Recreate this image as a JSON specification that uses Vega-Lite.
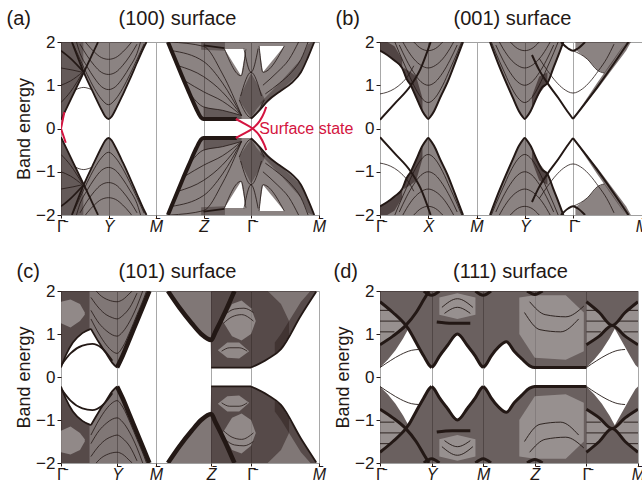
{
"$schema":"https://vega.github.io/schema/vega-lite/v6.json",
"background":"white",
"padding":{"left":5,"top":7,"right":0,"bottom":0},
"config":{"view":{"stroke":"#a0a0a0","strokeWidth":1},"font":"Liberation Sans",
"axis":{"labelFont":"Liberation Sans","titleFont":"Liberation Sans","labelColor":"#231815","titleColor":"#231815","titleFontWeight":"normal","tickColor":"#231815","domain":false,"labelOverlap":false},
"axisX":{"tickSize":3,"labelPadding":0,"labelFontSize":16,"labelFlush":false},
"axisY":{"tickSize":4,"labelPadding":2,"labelFontSize":17,"titleFontSize":18,"titlePadding":2}},
"datasets":{
"aA":[{"s":"a1","x":0,"y":0.2,"y2":2},{"s":"a1","x":0.1,"y":0.43,"y2":2},{"s":"a1","x":0.2,"y":0.66,"y2":2},{"s":"a1","x":0.3,"y":0.89,"y2":2},{"s":"a1","x":0.4,"y":1.12,"y2":2},{"s":"a1","x":0.48,"y":1.3,"y2":2},{"s":"a1","x":0.56,"y":1.14,"y2":2},{"s":"a1","x":0.7,"y":0.78,"y2":2},{"s":"a1","x":0.85,"y":0.44,"y2":2},{"s":"a1","x":0.93,"y":0.28,"y2":2},{"s":"a1","x":1,"y":0.22,"y2":2},{"s":"a1","x":1.07,"y":0.28,"y2":2},{"s":"a1","x":1.15,"y":0.44,"y2":2},{"s":"a1","x":1.3,"y":0.78,"y2":2},{"s":"a1","x":1.45,"y":1.14,"y2":2},{"s":"a1","x":1.6,"y":1.52,"y2":2},{"s":"a1","x":1.75,"y":1.89,"y2":2},{"s":"a1","x":1.8,"y":2,"y2":2},
{"s":"a2","x":2.25,"y":2,"y2":2},{"s":"a2","x":2.4,"y":1.6,"y2":2},{"s":"a2","x":2.55,"y":1.2,"y2":2},{"s":"a2","x":2.7,"y":0.82,"y2":2},{"s":"a2","x":2.85,"y":0.45,"y2":2},{"s":"a2","x":2.95,"y":0.25,"y2":2},{"s":"a2","x":3,"y":0.22,"y2":2},{"s":"a2","x":3.7,"y":0.22,"y2":2},{"s":"a2","x":4,"y":0.22,"y2":2},{"s":"a2","x":4.2,"y":0.45,"y2":2},{"s":"a2","x":4.35,"y":0.64,"y2":2},{"s":"a2","x":4.6,"y":0.85,"y2":2},{"s":"a2","x":4.85,"y":1.05,"y2":2},{"s":"a2","x":5.05,"y":1.3,"y2":2},{"s":"a2","x":5.2,"y":1.65,"y2":2},{"s":"a2","x":5.33,"y":2,"y2":2}],
"aD":[{"s":"d1","x":0,"y":0.2,"y2":2},{"s":"d1","x":0.1,"y":0.43,"y2":2},{"s":"d1","x":0.2,"y":0.66,"y2":2},{"s":"d1","x":0.3,"y":0.89,"y2":2},{"s":"d1","x":0.4,"y":1.12,"y2":2},{"s":"d1","x":0.47,"y":1.28,"y2":2},
{"s":"d2","x":3,"y":0.22,"y2":0.5},{"s":"d2","x":3.4,"y":0.22,"y2":0.42},{"s":"d2","x":3.8,"y":0.22,"y2":0.3},
{"s":"d3","x":2.95,"y":1.82,"y2":2},{"s":"d3","x":3.45,"y":1.8,"y2":2},
{"s":"d4","x":3.75,"y":0.66,"y2":0.7},{"s":"d4","x":3.9,"y":0.4,"y2":1.05},{"s":"d4","x":4,"y":0.25,"y2":1.28},{"s":"d4","x":4.12,"y":0.45,"y2":1.05},{"s":"d4","x":4.28,"y":0.66,"y2":0.7},
{"s":"d5","x":4.2,"y":0.45,"y2":0.6},{"s":"d5","x":4.6,"y":0.85,"y2":1.05},{"s":"d5","x":5.05,"y":1.3,"y2":1.6},{"s":"d5","x":5.2,"y":1.65,"y2":1.95},{"s":"d5","x":5.3,"y":1.95,"y2":2}],
"aW":[{"s":"w1","x":3.44,"y":1.84,"y2":1.84},{"s":"w1","x":3.79,"y":1.22,"y2":1.84},{"s":"w1","x":3.89,"y":1.84,"y2":1.84},
{"s":"w2","x":4.17,"y":1.91,"y2":1.91},{"s":"w2","x":4.25,"y":1.3,"y2":1.91},{"s":"w2","x":4.7,"y":1.91,"y2":1.91}],
"aL":[{"s":"v1","x":0.25,"y":1.96},{"s":"v1","x":0.4,"y":1.6},{"s":"v1","x":0.55,"y":1.25},{"s":"v1","x":0.7,"y":0.93},{"s":"v1","x":0.85,"y":0.68},{"s":"v1","x":1,"y":0.55},{"s":"v1","x":1.15,"y":0.68},{"s":"v1","x":1.3,"y":0.93},{"s":"v1","x":1.45,"y":1.25},{"s":"v1","x":1.6,"y":1.6},{"s":"v1","x":1.75,"y":1.96},
{"s":"v2","x":0.3,"y":2.1},{"s":"v2","x":0.4,"y":1.74},{"s":"v2","x":0.55,"y":1.43},{"s":"v2","x":0.7,"y":1.17},{"s":"v2","x":0.85,"y":0.97},{"s":"v2","x":1,"y":0.9},{"s":"v2","x":1.15,"y":0.97},{"s":"v2","x":1.3,"y":1.17},{"s":"v2","x":1.45,"y":1.43},{"s":"v2","x":1.6,"y":1.74},{"s":"v2","x":1.7,"y":2.1},
{"s":"v3","x":0.4,"y":1.95},{"s":"v3","x":0.55,"y":1.68},{"s":"v3","x":0.7,"y":1.46},{"s":"v3","x":0.85,"y":1.3},{"s":"v3","x":1,"y":1.25},{"s":"v3","x":1.15,"y":1.3},{"s":"v3","x":1.3,"y":1.46},{"s":"v3","x":1.45,"y":1.68},{"s":"v3","x":1.6,"y":1.95},
{"s":"v4","x":0.45,"y":2.1},{"s":"v4","x":0.55,"y":1.95},{"s":"v4","x":0.7,"y":1.77},{"s":"v4","x":0.85,"y":1.64},{"s":"v4","x":1,"y":1.6},{"s":"v4","x":1.15,"y":1.64},{"s":"v4","x":1.3,"y":1.77},{"s":"v4","x":1.45,"y":1.95},{"s":"v4","x":1.55,"y":2.1},
{"s":"g1","x":0,"y":0.6},{"s":"g1","x":0.2,"y":0.85},{"s":"g1","x":0.45,"y":1.28},
{"s":"g2","x":0,"y":1.0},{"s":"g2","x":0.2,"y":1.1},{"s":"g2","x":0.45,"y":1.3},
{"s":"g3","x":0,"y":1.4},{"s":"g3","x":0.25,"y":1.35},{"s":"g3","x":0.45,"y":1.3},
{"s":"ar","x":0.3,"y":0.89},{"s":"ar","x":0.38,"y":0.93},{"s":"ar","x":0.48,"y":0.95},{"s":"ar","x":0.57,"y":0.93},{"s":"ar","x":0.65,"y":0.9},
{"s":"z1","x":2.75,"y":0.75},{"s":"z1","x":3,"y":0.5},{"s":"z1","x":3.4,"y":0.42},{"s":"z1","x":3.8,"y":0.3},
{"s":"z2","x":2.61,"y":1.1},{"s":"z2","x":3,"y":0.85},{"s":"z2","x":3.4,"y":0.63},{"s":"z2","x":3.8,"y":0.3},
{"s":"z3","x":2.47,"y":1.45},{"s":"z3","x":3,"y":1.2},{"s":"z3","x":3.4,"y":0.84},{"s":"z3","x":3.8,"y":0.3},
{"s":"z4","x":2.33,"y":1.8},{"s":"z4","x":3,"y":1.55},{"s":"z4","x":3.4,"y":1.05},{"s":"z4","x":3.8,"y":0.3},
{"s":"z5","x":2.3,"y":2},{"s":"z5","x":3,"y":1.9},{"s":"z5","x":3.4,"y":1.26},{"s":"z5","x":3.8,"y":0.3},
{"s":"n1","x":3.44,"y":1.84},{"s":"n1","x":3.79,"y":1.22},{"s":"n1","x":3.89,"y":1.84},
{"s":"n2","x":4.17,"y":1.91},{"s":"n2","x":4.25,"y":1.3},{"s":"n2","x":4.7,"y":1.91},
{"s":"x1","x":3.78,"y":0.75},{"s":"x1","x":4,"y":1.3},{"s":"x1","x":4.22,"y":0.75},
{"s":"x2","x":3.85,"y":1.85},{"s":"x2","x":4,"y":1.3},{"s":"x2","x":4.15,"y":1.85},
{"s":"x3","x":3.75,"y":0.66},{"s":"x3","x":4,"y":0.25},{"s":"x3","x":4.28,"y":0.66},
{"s":"r1","x":4.3,"y":0.8},{"s":"r1","x":4.6,"y":1.05},{"s":"r1","x":4.85,"y":1.3},{"s":"r1","x":5.05,"y":1.6},{"s":"r1","x":5.2,"y":2},
{"s":"r2","x":4.25,"y":1.0},{"s":"r2","x":4.55,"y":1.3},{"s":"r2","x":4.8,"y":1.6},{"s":"r2","x":5,"y":2}],
"aB":[{"s":"e4","x":2.25,"y":2},{"s":"e4","x":2.4,"y":1.6},{"s":"e4","x":2.55,"y":1.2},{"s":"e4","x":2.7,"y":0.82},{"s":"e4","x":2.85,"y":0.45},{"s":"e4","x":2.95,"y":0.25},{"s":"e4","x":3,"y":0.22},{"s":"e4","x":3.7,"y":0.22}],
"aE":[{"s":"e1","x":0,"y":0.2},{"s":"e1","x":0.48,"y":1.3},{"s":"e1","x":0.78,"y":2},
{"s":"e2","x":0.23,"y":2},{"s":"e2","x":0.48,"y":1.3},{"s":"e2","x":0.7,"y":0.78},{"s":"e2","x":0.85,"y":0.44},{"s":"e2","x":0.93,"y":0.28},{"s":"e2","x":1,"y":0.22},{"s":"e2","x":1.07,"y":0.28},{"s":"e2","x":1.15,"y":0.44},{"s":"e2","x":1.3,"y":0.78},{"s":"e2","x":1.45,"y":1.14},{"s":"e2","x":1.6,"y":1.52},{"s":"e2","x":1.75,"y":1.89},{"s":"e2","x":1.8,"y":2},
{"s":"e3","x":0,"y":1.8},{"s":"e3","x":0.2,"y":1.62},{"s":"e3","x":0.48,"y":1.3},
{"s":"e5","x":4,"y":0.22},{"s":"e5","x":4.2,"y":0.45},{"s":"e5","x":4.35,"y":0.64},{"s":"e5","x":4.6,"y":0.85},{"s":"e5","x":4.85,"y":1.05},{"s":"e5","x":5.05,"y":1.3},{"s":"e5","x":5.2,"y":1.65},{"s":"e5","x":5.33,"y":2},
{"s":"e6","x":3,"y":1.92},{"s":"e6","x":3.44,"y":1.86}],
"aR":[{"s":"r1","x":3.68,"y":0.22},{"s":"r1","x":3.85,"y":0.12},{"s":"r1","x":4.03,"y":0},{"s":"r1","x":4.18,"y":-0.17},{"s":"r1","x":4.28,"y":-0.38},{"s":"r1","x":4.32,"y":-0.5},
{"s":"r2","x":3.68,"y":-0.22},{"s":"r2","x":3.85,"y":-0.12},{"s":"r2","x":4.03,"y":0},{"s":"r2","x":4.18,"y":0.17},{"s":"r2","x":4.28,"y":0.38},{"s":"r2","x":4.32,"y":0.5},
{"s":"r3","x":0,"y":0},{"s":"r3","x":0.07,"y":0.38},
{"s":"r4","x":0,"y":0},{"s":"r4","x":0.1,"y":-0.33}],
"aT":[{"t":"Surface state","x":4.17,"y":0}],
"bA":[{"s":"b1","x":0,"y":1.8,"y2":2},{"s":"b1","x":0.15,"y":1.7,"y2":2},{"s":"b1","x":0.3,"y":1.57,"y2":2},{"s":"b1","x":0.46,"y":1.4,"y2":2},{"s":"b1","x":0.55,"y":1.15,"y2":2},{"s":"b1","x":0.64,"y":1.0,"y2":2},{"s":"b1","x":0.75,"y":0.72,"y2":2},{"s":"b1","x":0.88,"y":0.4,"y2":2},{"s":"b1","x":0.95,"y":0.28,"y2":2},{"s":"b1","x":1,"y":0.22,"y2":2},{"s":"b1","x":1.05,"y":0.28,"y2":2},{"s":"b1","x":1.12,"y":0.4,"y2":2},{"s":"b1","x":1.25,"y":0.72,"y2":2},{"s":"b1","x":1.4,"y":1.07,"y2":2},{"s":"b1","x":1.55,"y":1.5,"y2":2},{"s":"b1","x":1.72,"y":2,"y2":2},
{"s":"b2","x":2.28,"y":2,"y2":2},{"s":"b2","x":2.45,"y":1.5,"y2":2},{"s":"b2","x":2.6,"y":1.1,"y2":2},{"s":"b2","x":2.75,"y":0.72,"y2":2},{"s":"b2","x":2.88,"y":0.4,"y2":2},{"s":"b2","x":2.95,"y":0.28,"y2":2},{"s":"b2","x":3,"y":0.22,"y2":2},{"s":"b2","x":3.05,"y":0.28,"y2":2},{"s":"b2","x":3.12,"y":0.4,"y2":2},{"s":"b2","x":3.25,"y":0.72,"y2":2},{"s":"b2","x":3.36,"y":0.95,"y2":2},{"s":"b2","x":3.47,"y":1.05,"y2":2},{"s":"b2","x":3.6,"y":1.42,"y2":2},{"s":"b2","x":3.7,"y":1.7,"y2":2},{"s":"b2","x":3.8,"y":2,"y2":2},
{"s":"b3","x":4.05,"y":1.82,"y2":2},{"s":"b3","x":4.3,"y":1.6,"y2":2},{"s":"b3","x":4.5,"y":1.35,"y2":2},{"s":"b3","x":4.65,"y":1.28,"y2":2},{"s":"b3","x":4.8,"y":1.5,"y2":2},{"s":"b3","x":5,"y":1.83,"y2":2},{"s":"b3","x":5.1,"y":2,"y2":2}],
"bD":[{"s":"bd","x":4,"y":0.22,"y2":0.22},{"s":"bd","x":4.5,"y":0.9,"y2":1.05},{"s":"bd","x":5,"y":1.65,"y2":1.85},{"s":"bd","x":5.1,"y":1.8,"y2":2},{"s":"bd","x":5.2,"y":2,"y2":2},
{"s":"wd","x":0,"y":1.8,"y2":2},{"s":"wd","x":0.15,"y":1.7,"y2":2},{"s":"wd","x":0.3,"y":1.57,"y2":1.9},{"s":"wd","x":0.46,"y":1.4,"y2":1.6},
{"s":"xd","x":0.5,"y":1.25,"y2":1.4},{"s":"xd","x":0.64,"y":1.0,"y2":1.3},{"s":"xd","x":0.75,"y":0.72,"y2":1.2},{"s":"xd","x":0.88,"y":0.42,"y2":0.7},
{"s":"yd","x":3.15,"y":0.5,"y2":0.75},{"s":"yd","x":3.3,"y":0.8,"y2":1.2},{"s":"yd","x":3.47,"y":1.05,"y2":1.3}],
"bL":[{"s":"x1","x":0.3,"y":2.02},{"s":"x1","x":0.4,"y":1.75},{"s":"x1","x":0.55,"y":1.37},{"s":"x1","x":0.7,"y":1.0},{"s":"x1","x":0.85,"y":0.72},{"s":"x1","x":1,"y":0.6},{"s":"x1","x":1.15,"y":0.72},{"s":"x1","x":1.3,"y":1.0},{"s":"x1","x":1.45,"y":1.37},{"s":"x1","x":1.6,"y":1.75},{"s":"x1","x":1.7,"y":2.02},
{"s":"x2","x":0.4,"y":1.93},{"s":"x2","x":0.55,"y":1.58},{"s":"x2","x":0.7,"y":1.29},{"s":"x2","x":0.85,"y":1.08},{"s":"x2","x":1,"y":1.0},{"s":"x2","x":1.15,"y":1.08},{"s":"x2","x":1.3,"y":1.29},{"s":"x2","x":1.45,"y":1.58},{"s":"x2","x":1.6,"y":1.93},
{"s":"x3","x":0.45,"y":2.05},{"s":"x3","x":0.55,"y":1.85},{"s":"x3","x":0.7,"y":1.61},{"s":"x3","x":0.85,"y":1.46},{"s":"x3","x":1,"y":1.4},{"s":"x3","x":1.15,"y":1.46},{"s":"x3","x":1.3,"y":1.61},{"s":"x3","x":1.45,"y":1.85},{"s":"x3","x":1.55,"y":2.05},
{"s":"x4","x":0.7,"y":2},{"s":"x4","x":0.85,"y":1.85},{"s":"x4","x":1,"y":1.8},{"s":"x4","x":1.15,"y":1.85},{"s":"x4","x":1.3,"y":2},
{"s":"q1","x":2.3,"y":2.02},{"s":"q1","x":2.4,"y":1.75},{"s":"q1","x":2.55,"y":1.37},{"s":"q1","x":2.7,"y":1.0},{"s":"q1","x":2.85,"y":0.72},{"s":"q1","x":3,"y":0.6},{"s":"q1","x":3.15,"y":0.72},{"s":"q1","x":3.3,"y":1.0},{"s":"q1","x":3.45,"y":1.37},{"s":"q1","x":3.6,"y":1.75},{"s":"q1","x":3.7,"y":2.02},
{"s":"q2","x":2.4,"y":1.93},{"s":"q2","x":2.55,"y":1.58},{"s":"q2","x":2.7,"y":1.29},{"s":"q2","x":2.85,"y":1.08},{"s":"q2","x":3,"y":1.0},{"s":"q2","x":3.15,"y":1.08},{"s":"q2","x":3.3,"y":1.29},{"s":"q2","x":3.45,"y":1.58},{"s":"q2","x":3.6,"y":1.93},
{"s":"q3","x":2.45,"y":2.05},{"s":"q3","x":2.55,"y":1.85},{"s":"q3","x":2.7,"y":1.61},{"s":"q3","x":2.85,"y":1.46},{"s":"q3","x":3,"y":1.4},{"s":"q3","x":3.15,"y":1.46},{"s":"q3","x":3.3,"y":1.61},{"s":"q3","x":3.45,"y":1.85},{"s":"q3","x":3.55,"y":2.05},
{"s":"q4","x":2.7,"y":2},{"s":"q4","x":2.85,"y":1.85},{"s":"q4","x":3,"y":1.8},{"s":"q4","x":3.15,"y":1.85},{"s":"q4","x":3.3,"y":2},
{"s":"u","x":3.3,"y":1.62},{"s":"u","x":3.47,"y":1.34},{"s":"u","x":3.65,"y":1.08},{"s":"u","x":3.8,"y":0.92},{"s":"u","x":4,"y":0.82},{"s":"u","x":4.2,"y":0.92},{"s":"u","x":4.35,"y":1.08},{"s":"u","x":4.53,"y":1.34},{"s":"u","x":4.7,"y":1.62},{"s":"u","x":4.85,"y":1.95},
{"s":"g0","x":0,"y":0.8},{"s":"g0","x":0.15,"y":0.84},{"s":"g0","x":0.3,"y":0.92},{"s":"g0","x":0.45,"y":1.05},{"s":"g0","x":0.57,"y":1.2},{"s":"g0","x":0.7,"y":1.45},
{"s":"nd","x":4,"y":1.8},{"s":"nd","x":4.3,"y":1.6},{"s":"nd","x":4.5,"y":1.35},{"s":"nd","x":4.65,"y":1.28}],
"bE":[{"s":"gb0","x":0,"y":0.2},{"s":"gb0","x":0.3,"y":0.57},{"s":"gb0","x":0.64,"y":1.0},{"s":"gb0","x":0.84,"y":1.38},{"s":"gb0","x":1.05,"y":2},
{"s":"we","x":0,"y":1.8},{"s":"we","x":0.15,"y":1.7},{"s":"we","x":0.3,"y":1.57},{"s":"we","x":0.46,"y":1.4},{"s":"we","x":0.55,"y":1.15},{"s":"we","x":0.64,"y":1.0},
{"s":"xv","x":0.64,"y":1.0},{"s":"xv","x":0.75,"y":0.72},{"s":"xv","x":0.88,"y":0.4},{"s":"xv","x":0.95,"y":0.28},{"s":"xv","x":1,"y":0.22},{"s":"xv","x":1.05,"y":0.28},{"s":"xv","x":1.12,"y":0.4},{"s":"xv","x":1.25,"y":0.72},{"s":"xv","x":1.4,"y":1.07},{"s":"xv","x":1.55,"y":1.5},{"s":"xv","x":1.72,"y":2},
{"s":"yv","x":2.28,"y":2},{"s":"yv","x":2.45,"y":1.5},{"s":"yv","x":2.6,"y":1.1},{"s":"yv","x":2.75,"y":0.72},{"s":"yv","x":2.88,"y":0.4},{"s":"yv","x":2.95,"y":0.28},{"s":"yv","x":3,"y":0.22},{"s":"yv","x":3.05,"y":0.28},{"s":"yv","x":3.12,"y":0.4},{"s":"yv","x":3.25,"y":0.72},{"s":"yv","x":3.36,"y":0.95},{"s":"yv","x":3.47,"y":1.05},{"s":"yv","x":3.6,"y":1.42},{"s":"yv","x":3.7,"y":1.7},{"s":"yv","x":3.8,"y":2},
{"s":"gb4","x":3.15,"y":1.7},{"s":"gb4","x":3.3,"y":1.35},{"s":"gb4","x":3.47,"y":1.05},{"s":"gb4","x":3.7,"y":0.7},{"s":"gb4","x":3.85,"y":0.45},{"s":"gb4","x":4,"y":0.22},
{"s":"nu","x":3.75,"y":2},{"s":"nu","x":3.9,"y":1.85},{"s":"nu","x":4,"y":1.8},{"s":"nu","x":4.1,"y":1.85},{"s":"nu","x":4.25,"y":2},
{"s":"bb","x":4,"y":0.22},{"s":"bb","x":4.5,"y":0.95},{"s":"bb","x":5,"y":1.75},{"s":"bb","x":5.15,"y":2}],
"cA":[{"s":"c1","x":0,"y":0.22,"y2":2},{"s":"c1","x":0.1,"y":0.5,"y2":2},{"s":"c1","x":0.25,"y":0.8,"y2":2},{"s":"c1","x":0.45,"y":1.02,"y2":2},{"s":"c1","x":0.63,"y":1.12,"y2":2},{"s":"c1","x":0.8,"y":0.8,"y2":2},{"s":"c1","x":0.95,"y":0.55,"y2":2},{"s":"c1","x":1.08,"y":0.33,"y2":2},{"s":"c1","x":1.18,"y":0.22,"y2":2},{"s":"c1","x":1.3,"y":0.5,"y2":2},{"s":"c1","x":1.45,"y":0.9,"y2":2},{"s":"c1","x":1.6,"y":1.3,"y2":2},{"s":"c1","x":1.75,"y":1.7,"y2":2},{"s":"c1","x":1.86,"y":2,"y2":2},
{"s":"c2","x":2.25,"y":2,"y2":2},{"s":"c2","x":2.5,"y":1.6,"y2":2},{"s":"c2","x":2.75,"y":1.25,"y2":2},{"s":"c2","x":2.95,"y":1.0,"y2":2},{"s":"c2","x":3.15,"y":0.84,"y2":2},{"s":"c2","x":3.16,"y":0.22,"y2":2},{"s":"c2","x":4,"y":0.22,"y2":2},{"s":"c2","x":4.35,"y":0.42,"y2":2},{"s":"c2","x":4.63,"y":0.65,"y2":2},{"s":"c2","x":5.05,"y":1.43,"y2":2},{"s":"c2","x":5.37,"y":1.98,"y2":2},{"s":"c2","x":5.4,"y":2,"y2":2}],
"cD":[{"s":"cd1","x":0,"y":0.22,"y2":2},{"s":"cd1","x":0.1,"y":0.5,"y2":2},{"s":"cd1","x":0.25,"y":0.8,"y2":2},{"s":"cd1","x":0.45,"y":1.02,"y2":2},{"s":"cd1","x":0.6,"y":1.1,"y2":2},
{"s":"cd2","x":3.16,"y":0.22,"y2":2},{"s":"cd2","x":4,"y":0.22,"y2":2},{"s":"cd2","x":4.35,"y":0.42,"y2":2},{"s":"cd2","x":4.63,"y":0.65,"y2":1.7},{"s":"cd2","x":4.8,"y":0.95,"y2":1.3},
{"s":"cd3","x":4.5,"y":0.55,"y2":0.8},{"s":"cd3","x":4.63,"y":0.65,"y2":1.0},{"s":"cd3","x":5.05,"y":1.43,"y2":1.75},{"s":"cd3","x":5.25,"y":1.8,"y2":2},{"s":"cd3","x":5.37,"y":1.98,"y2":2}],
"cK":[{"s":"k1","x":3.4,"y":1.3,"y2":1.3},{"s":"k1","x":3.6,"y":0.95,"y2":1.7},{"s":"k1","x":3.8,"y":0.85,"y2":1.78},{"s":"k1","x":4,"y":1.0,"y2":1.6},{"s":"k1","x":4.1,"y":1.3,"y2":1.3},
{"s":"k2","x":3.3,"y":0.62,"y2":0.62},{"s":"k2","x":3.5,"y":0.45,"y2":0.8},{"s":"k2","x":3.75,"y":0.43,"y2":0.8},{"s":"k2","x":3.96,"y":0.6,"y2":0.6},
{"s":"k3","x":0,"y":1.25,"y2":1.75},{"s":"k3","x":0.2,"y":1.15,"y2":1.8},{"s":"k3","x":0.4,"y":1.3,"y2":1.7},{"s":"k3","x":0.5,"y":1.45,"y2":1.5}],
"cL":[{"s":"f1","x":0.63,"y":1.35},{"s":"f1","x":0.8,"y":1.0},{"s":"f1","x":0.95,"y":0.75},{"s":"f1","x":1.08,"y":0.6},{"s":"f1","x":1.18,"y":0.55},{"s":"f1","x":1.3,"y":0.7},{"s":"f1","x":1.45,"y":1.05},{"s":"f1","x":1.6,"y":1.45},{"s":"f1","x":1.75,"y":1.85},{"s":"f1","x":1.8,"y":2},
{"s":"f2","x":0.63,"y":1.55},{"s":"f2","x":0.8,"y":1.25},{"s":"f2","x":0.95,"y":1.08},{"s":"f2","x":1.08,"y":0.98},{"s":"f2","x":1.18,"y":0.95},{"s":"f2","x":1.3,"y":1.05},{"s":"f2","x":1.45,"y":1.3},{"s":"f2","x":1.6,"y":1.65},{"s":"f2","x":1.72,"y":2},
{"s":"f3","x":0.63,"y":1.85},{"s":"f3","x":0.8,"y":1.6},{"s":"f3","x":0.95,"y":1.45},{"s":"f3","x":1.08,"y":1.38},{"s":"f3","x":1.18,"y":1.35},{"s":"f3","x":1.3,"y":1.43},{"s":"f3","x":1.45,"y":1.62},{"s":"f3","x":1.6,"y":1.95},
{"s":"f4","x":0.7,"y":2.05},{"s":"f4","x":0.85,"y":1.88},{"s":"f4","x":1,"y":1.79},{"s":"f4","x":1.18,"y":1.75},{"s":"f4","x":1.3,"y":1.8},{"s":"f4","x":1.45,"y":1.95},{"s":"f4","x":1.5,"y":2},
{"s":"l1","x":3.42,"y":1.25},{"s":"l1","x":3.6,"y":1.4},{"s":"l1","x":3.8,"y":1.45},{"s":"l1","x":4.05,"y":1.3},
{"s":"l2","x":3.45,"y":1.45},{"s":"l2","x":3.65,"y":1.58},{"s":"l2","x":3.85,"y":1.6},{"s":"l2","x":4.05,"y":1.5},
{"s":"l3","x":3.38,"y":0.6},{"s":"l3","x":3.55,"y":0.68},{"s":"l3","x":3.75,"y":0.68},{"s":"l3","x":3.92,"y":0.6}],
"cB":[{"s":"U","x":2.25,"y":2},{"s":"U","x":2.5,"y":1.6},{"s":"U","x":2.75,"y":1.25},{"s":"U","x":2.95,"y":1.0},{"s":"U","x":3.16,"y":0.86},{"s":"U","x":3.25,"y":1.05},{"s":"U","x":3.45,"y":1.5},{"s":"U","x":3.65,"y":2},
{"s":"yr","x":1.18,"y":0.22},{"s":"yr","x":1.3,"y":0.5},{"s":"yr","x":1.45,"y":0.9},{"s":"yr","x":1.6,"y":1.3},{"s":"yr","x":1.75,"y":1.7},{"s":"yr","x":1.86,"y":2}],
"cE":[{"s":"gl","x":0,"y":0.22},{"s":"gl","x":0.1,"y":0.5},{"s":"gl","x":0.25,"y":0.8},{"s":"gl","x":0.45,"y":1.02},{"s":"gl","x":0.63,"y":1.12},
{"s":"vl","x":0.63,"y":1.12},{"s":"vl","x":0.8,"y":0.8},{"s":"vl","x":0.95,"y":0.55},{"s":"vl","x":1.08,"y":0.33},{"s":"vl","x":1.18,"y":0.22},
{"s":"arc","x":0.02,"y":0.3},{"s":"arc","x":0.2,"y":0.55},{"s":"arc","x":0.45,"y":0.73},{"s":"arc","x":0.66,"y":0.77},{"s":"arc","x":0.85,"y":0.68},{"s":"arc","x":1,"y":0.5},{"s":"arc","x":1.08,"y":0.38},
{"s":"fl","x":3.16,"y":0.22},{"s":"fl","x":4,"y":0.22},
{"s":"rb","x":4,"y":0.22},{"s":"rb","x":4.35,"y":0.42},{"s":"rb","x":4.63,"y":0.65},{"s":"rb","x":5.05,"y":1.43},{"s":"rb","x":5.37,"y":1.98}],
"dA":[{"s":"dd","x":0,"y":0.22,"y2":2},{"s":"dd","x":0.15,"y":0.4,"y2":2},{"s":"dd","x":0.3,"y":0.62,"y2":2},{"s":"dd","x":0.45,"y":0.9,"y2":2},{"s":"dd","x":0.55,"y":1.12,"y2":2},{"s":"dd","x":0.7,"y":0.8,"y2":2},{"s":"dd","x":0.85,"y":0.48,"y2":2},{"s":"dd","x":0.95,"y":0.28,"y2":2},{"s":"dd","x":1,"y":0.22,"y2":2},{"s":"dd","x":1.05,"y":0.28,"y2":2},{"s":"dd","x":1.15,"y":0.48,"y2":2},{"s":"dd","x":1.3,"y":0.72,"y2":2},{"s":"dd","x":1.5,"y":1.0,"y2":2},{"s":"dd","x":1.7,"y":0.72,"y2":2},{"s":"dd","x":1.85,"y":0.48,"y2":2},{"s":"dd","x":1.95,"y":0.28,"y2":2},{"s":"dd","x":2,"y":0.22,"y2":2},{"s":"dd","x":2.05,"y":0.28,"y2":2},{"s":"dd","x":2.15,"y":0.48,"y2":2},{"s":"dd","x":2.3,"y":0.7,"y2":2},{"s":"dd","x":2.45,"y":0.82,"y2":2},{"s":"dd","x":2.6,"y":0.6,"y2":2},{"s":"dd","x":2.75,"y":0.42,"y2":2},{"s":"dd","x":2.9,"y":0.26,"y2":2},{"s":"dd","x":3,"y":0.22,"y2":2},{"s":"dd","x":4,"y":0.22,"y2":2},{"s":"dd","x":4.15,"y":0.4,"y2":2},{"s":"dd","x":4.3,"y":0.62,"y2":2},{"s":"dd","x":4.45,"y":0.9,"y2":2},{"s":"dd","x":4.55,"y":1.12,"y2":2},{"s":"dd","x":4.7,"y":0.8,"y2":2},{"s":"dd","x":4.85,"y":0.48,"y2":2},{"s":"dd","x":4.95,"y":0.28,"y2":2},{"s":"dd","x":5,"y":0.22,"y2":2}],
"dK":[{"s":"k1","x":0,"y":0.75,"y2":1.75},{"s":"k1","x":0.25,"y":0.95,"y2":1.5},{"s":"k1","x":0.5,"y":1.2,"y2":1.2},
{"s":"k2","x":4,"y":0.75,"y2":1.75},{"s":"k2","x":4.25,"y":0.95,"y2":1.5},{"s":"k2","x":4.5,"y":1.2,"y2":1.2},
{"s":"k3","x":4.5,"y":1.2,"y2":1.2},{"s":"k3","x":4.75,"y":0.95,"y2":1.5},{"s":"k3","x":5,"y":0.75,"y2":1.75},
{"s":"k4","x":2.7,"y":1.0,"y2":1.85},{"s":"k4","x":3,"y":0.45,"y2":1.9},{"s":"k4","x":3.6,"y":0.4,"y2":1.9},{"s":"k4","x":3.95,"y":0.6,"y2":1.5},
{"s":"k5","x":1.15,"y":1.45,"y2":1.85},{"s":"k5","x":1.5,"y":1.35,"y2":1.95},{"s":"k5","x":1.85,"y":1.45,"y2":1.85}],
"dL":[{"s":"s1","x":0,"y":0.22},{"s":"s1","x":0.2,"y":0.38},{"s":"s1","x":0.4,"y":0.52},{"s":"s1","x":0.61,"y":0.62},{"s":"s1","x":0.75,"y":0.64},
{"s":"s2","x":4,"y":0.22},{"s":"s2","x":4.2,"y":0.38},{"s":"s2","x":4.4,"y":0.52},{"s":"s2","x":4.61,"y":0.62},{"s":"s2","x":4.75,"y":0.64},
{"s":"a1","x":1.2,"y":1.62},{"s":"a1","x":1.5,"y":1.82},{"s":"a1","x":1.8,"y":1.62},
{"s":"a2","x":1.25,"y":1.48},{"s":"a2","x":1.5,"y":1.62},{"s":"a2","x":1.75,"y":1.48},
{"s":"h1","x":0,"y":1.05},{"s":"h1","x":0.28,"y":1.05},{"s":"h2","x":0,"y":1.3},{"s":"h2","x":0.4,"y":1.3},{"s":"h3","x":0,"y":1.55},{"s":"h3","x":0.22,"y":1.55},
{"s":"h4","x":4,"y":1.05},{"s":"h4","x":4.28,"y":1.05},{"s":"h5","x":4,"y":1.3},{"s":"h5","x":4.4,"y":1.3},{"s":"h6","x":4,"y":1.55},{"s":"h6","x":4.22,"y":1.55},
{"s":"h7","x":4.72,"y":1.05},{"s":"h7","x":5,"y":1.05},{"s":"h8","x":4.6,"y":1.3},{"s":"h8","x":5,"y":1.3},{"s":"h9","x":4.78,"y":1.55},{"s":"h9","x":5,"y":1.55},
{"s":"z1","x":2.8,"y":1.5},{"s":"z1","x":3.1,"y":1.1},{"s":"z1","x":3.5,"y":1.05},{"s":"z1","x":3.85,"y":1.35},
{"s":"z2","x":2.9,"y":1.75},{"s":"z2","x":3.2,"y":1.45},{"s":"z2","x":3.6,"y":1.4},{"s":"z2","x":3.95,"y":1.65}],
"dE":[{"s":"e1","x":0,"y":1.75},{"s":"e1","x":0.25,"y":1.5},{"s":"e1","x":0.5,"y":1.2},{"s":"e1","x":0.55,"y":1.12},{"s":"e1","x":0.7,"y":0.8},{"s":"e1","x":0.85,"y":0.48},{"s":"e1","x":0.95,"y":0.28},{"s":"e1","x":1,"y":0.22},
{"s":"e2","x":0,"y":0.75},{"s":"e2","x":0.25,"y":0.95},{"s":"e2","x":0.5,"y":1.2},{"s":"e2","x":0.7,"y":1.5},{"s":"e2","x":0.85,"y":1.8},{"s":"e2","x":0.95,"y":2},
{"s":"e3","x":1,"y":0.22},{"s":"e3","x":1.05,"y":0.28},{"s":"e3","x":1.15,"y":0.48},{"s":"e3","x":1.3,"y":0.72},{"s":"e3","x":1.5,"y":1.0},{"s":"e3","x":1.7,"y":0.72},{"s":"e3","x":1.85,"y":0.48},{"s":"e3","x":1.95,"y":0.28},{"s":"e3","x":2,"y":0.22},
{"s":"e4","x":2,"y":0.22},{"s":"e4","x":2.05,"y":0.28},{"s":"e4","x":2.15,"y":0.48},{"s":"e4","x":2.3,"y":0.7},{"s":"e4","x":2.45,"y":0.82},{"s":"e4","x":2.6,"y":0.6},{"s":"e4","x":2.75,"y":0.42},{"s":"e4","x":2.9,"y":0.26},{"s":"e4","x":3,"y":0.22},{"s":"e4","x":4,"y":0.22},
{"s":"e5","x":4,"y":1.75},{"s":"e5","x":4.25,"y":1.5},{"s":"e5","x":4.5,"y":1.2},{"s":"e5","x":4.75,"y":1.5},{"s":"e5","x":5,"y":1.75},
{"s":"e6","x":4,"y":0.75},{"s":"e6","x":4.25,"y":0.95},{"s":"e6","x":4.5,"y":1.2},{"s":"e6","x":4.75,"y":0.95},{"s":"e6","x":5,"y":0.75},
{"s":"e7","x":1.1,"y":1.28},{"s":"e7","x":1.4,"y":1.25},{"s":"e7","x":1.75,"y":1.25},
{"s":"t1","x":0.85,"y":2},{"s":"t1","x":1,"y":1.9},{"s":"t1","x":1.15,"y":2},
{"s":"t2","x":1.85,"y":2},{"s":"t2","x":2,"y":1.9},{"s":"t2","x":2.15,"y":2},
{"s":"t3","x":2.85,"y":2},{"s":"t3","x":3,"y":1.92},{"s":"t3","x":3.15,"y":2}]
},
"columns":2,
"spacing":{"row":76,"column":61},
"bounds":"flush",
"concat":[
{"width":258,"height":173,"resolve":{"scale":{"y":"independent"},"axis":{"x":"independent","y":"independent"}},
"layer":[
{"data":{"name":"aA"},"mark":{"type":"area","color":"#2b1d1b","opacity":0.55,"clip":true},"encoding":{"x":{"field":"x","type":"quantitative","scale":{"domain":[0,5.43],"nice":false,"zero":false},"axis":{"orient":"bottom","values":[0,1,2,3,4,5.43],"labelExpr":"datum.value==0||datum.value==4?'Γ̄':datum.value==1?'Ȳ':datum.value==3?'Z̄':'M̄'","labelFontStyle":{"condition":{"test":"datum.value==0||datum.value==4","value":"normal"},"value":"italic"},"title":null,"grid":true,"gridColor":"#a8a8a8"}},"y":{"field":"y","type":"quantitative","scale":{"domain":[-2,2],"nice":false,"zero":false},"stack":null,"axis":{"orient":"left","values":[-2,-1,0,1,2],"title":"Band energy","grid":false}},"y2":{"field":"y2"},"detail":{"field":"s"}}},
{"data":{"name":"aA"},"mark":{"type":"area","color":"#2b1d1b","opacity":0.55,"clip":true},"encoding":{"x":{"field":"x","type":"quantitative","scale":{"domain":[0,5.43],"nice":false,"zero":false},"axis":{"orient":"top","labels":false,"ticks":false,"domain":false,"grid":false,"title":"(a)","titleX":-55,"titleY":-18,"titleAlign":"left","titleBaseline":"alphabetic","titleFontSize":20}},"y":{"field":"y","type":"quantitative","scale":{"domain":[-2,2],"nice":false,"zero":false,"reverse":true},"stack":null,"axis":null},"y2":{"field":"y2"},"detail":{"field":"s"}}},
{"data":{"name":"aD"},"mark":{"type":"area","color":"#2b1d1b","opacity":0.4,"clip":true},"encoding":{"x":{"field":"x","type":"quantitative","axis":null},"y":{"field":"y","type":"quantitative","scale":{"domain":[-2,2],"nice":false,"zero":false},"stack":null,"axis":null},"y2":{"field":"y2"},"detail":{"field":"s"}}},
{"data":{"name":"aD"},"mark":{"type":"area","color":"#2b1d1b","opacity":0.4,"clip":true},"encoding":{"x":{"field":"x","type":"quantitative","axis":null},"y":{"field":"y","type":"quantitative","scale":{"domain":[-2,2],"nice":false,"zero":false,"reverse":true},"stack":null,"axis":null},"y2":{"field":"y2"},"detail":{"field":"s"}}},
{"data":{"name":"aW"},"mark":{"type":"area","color":"#ffffff","opacity":1,"clip":true},"encoding":{"x":{"field":"x","type":"quantitative","axis":null},"y":{"field":"y","type":"quantitative","scale":{"domain":[-2,2],"nice":false,"zero":false},"stack":null,"axis":null},"y2":{"field":"y2"},"detail":{"field":"s"}}},
{"data":{"name":"aW"},"mark":{"type":"area","color":"#ffffff","opacity":1,"clip":true},"encoding":{"x":{"field":"x","type":"quantitative","axis":null},"y":{"field":"y","type":"quantitative","scale":{"domain":[-2,2],"nice":false,"zero":false,"reverse":true},"stack":null,"axis":null},"y2":{"field":"y2"},"detail":{"field":"s"}}},
{"data":{"name":"aL"},"mark":{"type":"line","color":"#231815","strokeWidth":0.8,"clip":true,"interpolate":"monotone"},"encoding":{"x":{"field":"x","type":"quantitative","axis":{"orient":"top","labels":false,"ticks":false,"domain":false,"grid":false,"title":"(100) surface","titleX":116,"titleY":-18,"titleAlign":"center","titleBaseline":"alphabetic","titleFontSize":20}},"y":{"field":"y","type":"quantitative","scale":{"domain":[-2,2],"nice":false,"zero":false},"axis":null},"detail":{"field":"s"}}},
{"data":{"name":"aL"},"mark":{"type":"line","color":"#231815","strokeWidth":0.8,"clip":true,"interpolate":"monotone"},"encoding":{"x":{"field":"x","type":"quantitative","axis":null},"y":{"field":"y","type":"quantitative","scale":{"domain":[-2,2],"nice":false,"zero":false,"reverse":true},"axis":null},"detail":{"field":"s"}}},
{"data":{"name":"aB"},"mark":{"type":"line","color":"#231815","strokeWidth":4,"clip":true,"interpolate":"monotone"},"encoding":{"x":{"field":"x","type":"quantitative","axis":null},"y":{"field":"y","type":"quantitative","scale":{"domain":[-2,2],"nice":false,"zero":false},"axis":null},"detail":{"field":"s"}}},
{"data":{"name":"aB"},"mark":{"type":"line","color":"#231815","strokeWidth":4,"clip":true,"interpolate":"monotone"},"encoding":{"x":{"field":"x","type":"quantitative","axis":null},"y":{"field":"y","type":"quantitative","scale":{"domain":[-2,2],"nice":false,"zero":false,"reverse":true},"axis":null},"detail":{"field":"s"}}},
{"data":{"name":"aE"},"mark":{"type":"line","color":"#231815","strokeWidth":1.8,"clip":true,"interpolate":"monotone"},"encoding":{"x":{"field":"x","type":"quantitative","axis":null},"y":{"field":"y","type":"quantitative","scale":{"domain":[-2,2],"nice":false,"zero":false},"axis":null},"detail":{"field":"s"}}},
{"data":{"name":"aE"},"mark":{"type":"line","color":"#231815","strokeWidth":1.8,"clip":true,"interpolate":"monotone"},"encoding":{"x":{"field":"x","type":"quantitative","axis":null},"y":{"field":"y","type":"quantitative","scale":{"domain":[-2,2],"nice":false,"zero":false,"reverse":true},"axis":null},"detail":{"field":"s"}}},
{"data":{"name":"aR"},"mark":{"type":"line","color":"#d41440","strokeWidth":2,"clip":true,"interpolate":"monotone"},"encoding":{"x":{"field":"x","type":"quantitative","axis":null},"y":{"field":"y","type":"quantitative","scale":{"domain":[-2,2],"nice":false,"zero":false},"axis":null},"detail":{"field":"s"}}},
{"data":{"name":"aT"},"mark":{"type":"text","align":"left","baseline":"middle","fontSize":16,"color":"#d41440","font":"Liberation Sans"},"encoding":{"x":{"field":"x","type":"quantitative","axis":null},"y":{"field":"y","type":"quantitative","scale":{"domain":[-2,2],"nice":false,"zero":false},"axis":null},"text":{"field":"t"}}}
]},
{"width":262,"height":173,"resolve":{"scale":{"y":"independent"},"axis":{"x":"independent","y":"independent"}},
"layer":[
{"data":{"name":"bA"},"mark":{"type":"area","color":"#2b1d1b","opacity":0.55,"clip":true},"encoding":{"x":{"field":"x","type":"quantitative","scale":{"domain":[0,5.43],"nice":false,"zero":false},"axis":{"orient":"bottom","values":[0,1,2,3,4,5.43],"labelExpr":"datum.value==0||datum.value==4?'Γ̄':datum.value==1?'X̄':datum.value==3?'Ȳ':'M̄'","labelFontStyle":{"condition":{"test":"datum.value==0||datum.value==4","value":"normal"},"value":"italic"},"title":null,"grid":true,"gridColor":"#a8a8a8"}},"y":{"field":"y","type":"quantitative","scale":{"domain":[-2,2],"nice":false,"zero":false},"stack":null,"axis":{"orient":"left","values":[-2,-1,0,1,2],"title":null,"grid":false}},"y2":{"field":"y2"},"detail":{"field":"s"}}},
{"data":{"name":"bA"},"mark":{"type":"area","color":"#2b1d1b","opacity":0.55,"clip":true},"encoding":{"x":{"field":"x","type":"quantitative","scale":{"domain":[0,5.43],"nice":false,"zero":false},"axis":{"orient":"top","labels":false,"ticks":false,"domain":false,"grid":false,"title":"(b)","titleX":-45,"titleY":-18,"titleAlign":"left","titleBaseline":"alphabetic","titleFontSize":20}},"y":{"field":"y","type":"quantitative","scale":{"domain":[-2,2],"nice":false,"zero":false,"reverse":true},"stack":null,"axis":null},"y2":{"field":"y2"},"detail":{"field":"s"}}},
{"data":{"name":"bD"},"mark":{"type":"area","color":"#2b1d1b","opacity":0.6,"clip":true},"encoding":{"x":{"field":"x","type":"quantitative","axis":null},"y":{"field":"y","type":"quantitative","scale":{"domain":[-2,2],"nice":false,"zero":false},"stack":null,"axis":null},"y2":{"field":"y2"},"detail":{"field":"s"}}},
{"data":{"name":"bD"},"mark":{"type":"area","color":"#2b1d1b","opacity":0.6,"clip":true},"encoding":{"x":{"field":"x","type":"quantitative","axis":null},"y":{"field":"y","type":"quantitative","scale":{"domain":[-2,2],"nice":false,"zero":false,"reverse":true},"stack":null,"axis":null},"y2":{"field":"y2"},"detail":{"field":"s"}}},
{"data":{"name":"bL"},"mark":{"type":"line","color":"#231815","strokeWidth":0.8,"clip":true,"interpolate":"monotone"},"encoding":{"x":{"field":"x","type":"quantitative","axis":{"orient":"top","labels":false,"ticks":false,"domain":false,"grid":false,"title":"(001) surface","titleX":132,"titleY":-18,"titleAlign":"center","titleBaseline":"alphabetic","titleFontSize":20}},"y":{"field":"y","type":"quantitative","scale":{"domain":[-2,2],"nice":false,"zero":false},"axis":null},"detail":{"field":"s"}}},
{"data":{"name":"bL"},"mark":{"type":"line","color":"#231815","strokeWidth":0.8,"clip":true,"interpolate":"monotone"},"encoding":{"x":{"field":"x","type":"quantitative","axis":null},"y":{"field":"y","type":"quantitative","scale":{"domain":[-2,2],"nice":false,"zero":false,"reverse":true},"axis":null},"detail":{"field":"s"}}},
{"data":{"name":"bE"},"mark":{"type":"line","color":"#231815","strokeWidth":2,"clip":true,"interpolate":"monotone"},"encoding":{"x":{"field":"x","type":"quantitative","axis":null},"y":{"field":"y","type":"quantitative","scale":{"domain":[-2,2],"nice":false,"zero":false},"axis":null},"detail":{"field":"s"}}},
{"data":{"name":"bE"},"mark":{"type":"line","color":"#231815","strokeWidth":2,"clip":true,"interpolate":"monotone"},"encoding":{"x":{"field":"x","type":"quantitative","axis":null},"y":{"field":"y","type":"quantitative","scale":{"domain":[-2,2],"nice":false,"zero":false,"reverse":true},"axis":null},"detail":{"field":"s"}}}
]},
{"width":258,"height":172,"resolve":{"scale":{"y":"independent"},"axis":{"x":"independent","y":"independent"}},
"layer":[
{"data":{"name":"cA"},"mark":{"type":"area","color":"#2b1d1b","opacity":0.6,"clip":true},"encoding":{"x":{"field":"x","type":"quantitative","scale":{"domain":[0,5.43],"nice":false,"zero":false},"axis":{"orient":"bottom","values":[0,1.18,2,3.16,4,5.43],"labelExpr":"datum.value==0||datum.value==4?'Γ̄':datum.value==1.18?'Ȳ':datum.value==3.16?'Z̄':'M̄'","labelFontStyle":{"condition":{"test":"datum.value==0||datum.value==4","value":"normal"},"value":"italic"},"title":null,"grid":true,"gridColor":"#a8a8a8"}},"y":{"field":"y","type":"quantitative","scale":{"domain":[-2,2],"nice":false,"zero":false},"stack":null,"axis":{"orient":"left","values":[-2,-1,0,1,2],"title":"Band energy","grid":false}},"y2":{"field":"y2"},"detail":{"field":"s"}}},
{"data":{"name":"cA"},"mark":{"type":"area","color":"#2b1d1b","opacity":0.6,"clip":true},"encoding":{"x":{"field":"x","type":"quantitative","scale":{"domain":[0,5.43],"nice":false,"zero":false},"axis":{"orient":"top","labels":false,"ticks":false,"domain":false,"grid":false,"title":"(c)","titleX":-45,"titleY":-14,"titleAlign":"left","titleBaseline":"alphabetic","titleFontSize":20}},"y":{"field":"y","type":"quantitative","scale":{"domain":[-2,2],"nice":false,"zero":false,"reverse":true},"stack":null,"axis":null},"y2":{"field":"y2"},"detail":{"field":"s"}}},
{"data":{"name":"cD"},"mark":{"type":"area","color":"#2b1d1b","opacity":0.5,"clip":true},"encoding":{"x":{"field":"x","type":"quantitative","axis":null},"y":{"field":"y","type":"quantitative","scale":{"domain":[-2,2],"nice":false,"zero":false},"stack":null,"axis":null},"y2":{"field":"y2"},"detail":{"field":"s"}}},
{"data":{"name":"cD"},"mark":{"type":"area","color":"#2b1d1b","opacity":0.5,"clip":true},"encoding":{"x":{"field":"x","type":"quantitative","axis":null},"y":{"field":"y","type":"quantitative","scale":{"domain":[-2,2],"nice":false,"zero":false,"reverse":true},"stack":null,"axis":null},"y2":{"field":"y2"},"detail":{"field":"s"}}},
{"data":{"name":"cK"},"mark":{"type":"area","color":"#ffffff","opacity":0.35,"clip":true},"encoding":{"x":{"field":"x","type":"quantitative","axis":null},"y":{"field":"y","type":"quantitative","scale":{"domain":[-2,2],"nice":false,"zero":false},"stack":null,"axis":null},"y2":{"field":"y2"},"detail":{"field":"s"}}},
{"data":{"name":"cK"},"mark":{"type":"area","color":"#ffffff","opacity":0.35,"clip":true},"encoding":{"x":{"field":"x","type":"quantitative","axis":null},"y":{"field":"y","type":"quantitative","scale":{"domain":[-2,2],"nice":false,"zero":false,"reverse":true},"stack":null,"axis":null},"y2":{"field":"y2"},"detail":{"field":"s"}}},
{"data":{"name":"cL"},"mark":{"type":"line","color":"#231815","strokeWidth":0.8,"clip":true,"interpolate":"monotone"},"encoding":{"x":{"field":"x","type":"quantitative","axis":{"orient":"top","labels":false,"ticks":false,"domain":false,"grid":false,"title":"(101) surface","titleX":116,"titleY":-14,"titleAlign":"center","titleBaseline":"alphabetic","titleFontSize":20}},"y":{"field":"y","type":"quantitative","scale":{"domain":[-2,2],"nice":false,"zero":false},"axis":null},"detail":{"field":"s"}}},
{"data":{"name":"cL"},"mark":{"type":"line","color":"#231815","strokeWidth":0.8,"clip":true,"interpolate":"monotone"},"encoding":{"x":{"field":"x","type":"quantitative","axis":null},"y":{"field":"y","type":"quantitative","scale":{"domain":[-2,2],"nice":false,"zero":false,"reverse":true},"axis":null},"detail":{"field":"s"}}},
{"data":{"name":"cB"},"mark":{"type":"line","color":"#231815","strokeWidth":4.5,"clip":true,"interpolate":"monotone"},"encoding":{"x":{"field":"x","type":"quantitative","axis":null},"y":{"field":"y","type":"quantitative","scale":{"domain":[-2,2],"nice":false,"zero":false},"axis":null},"detail":{"field":"s"}}},
{"data":{"name":"cB"},"mark":{"type":"line","color":"#231815","strokeWidth":4.5,"clip":true,"interpolate":"monotone"},"encoding":{"x":{"field":"x","type":"quantitative","axis":null},"y":{"field":"y","type":"quantitative","scale":{"domain":[-2,2],"nice":false,"zero":false,"reverse":true},"axis":null},"detail":{"field":"s"}}},
{"data":{"name":"cE"},"mark":{"type":"line","color":"#231815","strokeWidth":1.8,"clip":true,"interpolate":"monotone"},"encoding":{"x":{"field":"x","type":"quantitative","axis":null},"y":{"field":"y","type":"quantitative","scale":{"domain":[-2,2],"nice":false,"zero":false},"axis":null},"detail":{"field":"s"}}},
{"data":{"name":"cE"},"mark":{"type":"line","color":"#231815","strokeWidth":1.8,"clip":true,"interpolate":"monotone"},"encoding":{"x":{"field":"x","type":"quantitative","axis":null},"y":{"field":"y","type":"quantitative","scale":{"domain":[-2,2],"nice":false,"zero":false,"reverse":true},"axis":null},"detail":{"field":"s"}}}
]},
{"width":258,"height":172,"resolve":{"scale":{"y":"independent"},"axis":{"x":"independent","y":"independent"}},
"layer":[
{"data":{"name":"dA"},"mark":{"type":"area","color":"#2b1d1b","opacity":0.7,"clip":true},"encoding":{"x":{"field":"x","type":"quantitative","scale":{"domain":[0,5],"nice":false,"zero":false},"axis":{"orient":"bottom","values":[0,1,2,3,4,5],"labelExpr":"datum.value==0||datum.value==4?'Γ̄':datum.value==1?'Ȳ':datum.value==3?'Z̄':'M̄'","labelFontStyle":{"condition":{"test":"datum.value==0||datum.value==4","value":"normal"},"value":"italic"},"title":null,"grid":true,"gridColor":"#a8a8a8"}},"y":{"field":"y","type":"quantitative","scale":{"domain":[-2,2],"nice":false,"zero":false},"stack":null,"axis":{"orient":"left","values":[-2,-1,0,1,2],"title":"Band energy","grid":false}},"y2":{"field":"y2"},"detail":{"field":"s"}}},
{"data":{"name":"dA"},"mark":{"type":"area","color":"#2b1d1b","opacity":0.7,"clip":true},"encoding":{"x":{"field":"x","type":"quantitative","scale":{"domain":[0,5],"nice":false,"zero":false},"axis":{"orient":"top","labels":false,"ticks":false,"domain":false,"grid":false,"title":"(d)","titleX":-47,"titleY":-14,"titleAlign":"left","titleBaseline":"alphabetic","titleFontSize":20}},"y":{"field":"y","type":"quantitative","scale":{"domain":[-2,2],"nice":false,"zero":false,"reverse":true},"stack":null,"axis":null},"y2":{"field":"y2"},"detail":{"field":"s"}}},
{"data":{"name":"dK"},"mark":{"type":"area","color":"#ffffff","opacity":0.3,"clip":true},"encoding":{"x":{"field":"x","type":"quantitative","axis":null},"y":{"field":"y","type":"quantitative","scale":{"domain":[-2,2],"nice":false,"zero":false},"stack":null,"axis":null},"y2":{"field":"y2"},"detail":{"field":"s"}}},
{"data":{"name":"dK"},"mark":{"type":"area","color":"#ffffff","opacity":0.3,"clip":true},"encoding":{"x":{"field":"x","type":"quantitative","axis":null},"y":{"field":"y","type":"quantitative","scale":{"domain":[-2,2],"nice":false,"zero":false,"reverse":true},"stack":null,"axis":null},"y2":{"field":"y2"},"detail":{"field":"s"}}},
{"data":{"name":"dL"},"mark":{"type":"line","color":"#231815","strokeWidth":0.9,"clip":true,"interpolate":"monotone"},"encoding":{"x":{"field":"x","type":"quantitative","axis":{"orient":"top","labels":false,"ticks":false,"domain":false,"grid":false,"title":"(111) surface","titleX":130,"titleY":-14,"titleAlign":"center","titleBaseline":"alphabetic","titleFontSize":20}},"y":{"field":"y","type":"quantitative","scale":{"domain":[-2,2],"nice":false,"zero":false},"axis":null},"detail":{"field":"s"}}},
{"data":{"name":"dL"},"mark":{"type":"line","color":"#231815","strokeWidth":0.9,"clip":true,"interpolate":"monotone"},"encoding":{"x":{"field":"x","type":"quantitative","axis":null},"y":{"field":"y","type":"quantitative","scale":{"domain":[-2,2],"nice":false,"zero":false,"reverse":true},"axis":null},"detail":{"field":"s"}}},
{"data":{"name":"dE"},"mark":{"type":"line","color":"#231815","strokeWidth":3,"clip":true,"interpolate":"monotone"},"encoding":{"x":{"field":"x","type":"quantitative","axis":null},"y":{"field":"y","type":"quantitative","scale":{"domain":[-2,2],"nice":false,"zero":false},"axis":null},"detail":{"field":"s"}}},
{"data":{"name":"dE"},"mark":{"type":"line","color":"#231815","strokeWidth":3,"clip":true,"interpolate":"monotone"},"encoding":{"x":{"field":"x","type":"quantitative","axis":null},"y":{"field":"y","type":"quantitative","scale":{"domain":[-2,2],"nice":false,"zero":false,"reverse":true},"axis":null},"detail":{"field":"s"}}}
]}
]
}
